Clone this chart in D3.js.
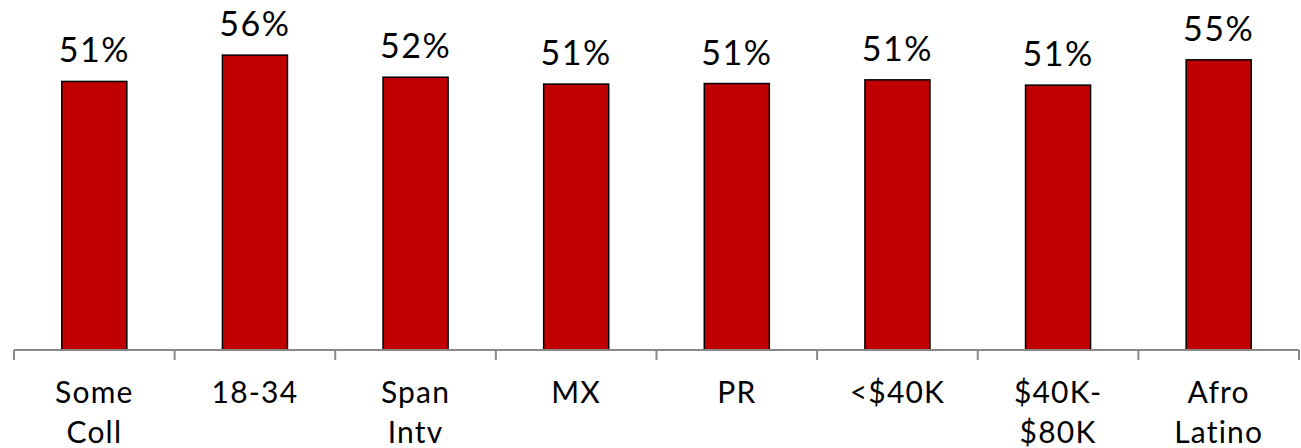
<!DOCTYPE html>
<html>
<head>
<meta charset="utf-8">
<script src="https://cdn.jsdelivr.net/npm/d3@7"></script>
<style>
  body { margin: 0; background: #fff; }
  text { font-family: "Century Gothic", "Lato", sans-serif; fill: #000; }
</style>
</head>
<body>
<svg id="chart" width="1301" height="448"></svg>
<script>
var categories = [["Some", "Coll"], ["18-34"], ["Span", "Intv"], ["MX"], ["PR"], ["<$40K"], ["$40K-", "$80K"], ["Afro", "Latino"]];
var values = [0.510, 0.560, 0.518, 0.505, 0.506, 0.513, 0.503, 0.551];
var valueLabels = ["51%", "56%", "52%", "51%", "51%", "51%", "51%", "55%"];

var svg = d3.select("svg#chart"),
  width = +svg.attr("width"),
  height = +svg.attr("height");

var x = d3.scaleBand()
  .domain(d3.range(categories.length))
  .range([14, 1299])
  .paddingInner(0.595)
  .paddingOuter(0.2975);

var y = d3.scaleLinear()
  .domain([0, 0.6])
  .range([350, 350 - 0.6 * 526.6]);

// bars
svg.append("g")
  .selectAll("rect")
  .data(values)
  .enter().append("rect")
  .attr("x", function(d, i) { return x(i); })
  .attr("y", function(d) { return y(d); })
  .attr("width", x.bandwidth())
  .attr("height", function(d) { return y(0) - y(d); })
  .attr("fill", "#c00000")
  .attr("stroke", "#000")
  .attr("stroke-width", 1.5);

// x axis with ticks between categories
var axis = svg.append("g").attr("class", "axis");
axis.append("line")
  .attr("x1", 14).attr("x2", 1299)
  .attr("y1", 350).attr("y2", 350)
  .attr("stroke", "#898989").attr("stroke-width", 2);
axis.selectAll("line.tick")
  .data(d3.range(categories.length + 1))
  .enter().append("line")
  .attr("class", "tick")
  .attr("x1", function(d) { return 14 + d * (1285 / categories.length); })
  .attr("x2", function(d) { return 14 + d * (1285 / categories.length); })
  .attr("y1", 350).attr("y2", 360)
  .attr("stroke", "#898989").attr("stroke-width", 2);

// category labels
var cat = svg.append("g")
  .selectAll("text")
  .data(categories)
  .enter().append("text")
  .attr("text-anchor", "middle")
  .attr("font-size", 30)
  .attr("letter-spacing", 1.2)
  .attr("x", function(d, i) { return x(i) + x.bandwidth() / 2; });
cat.selectAll("tspan")
  .data(function(d, i) { return d.map(function(s) { return { s: s, i: i }; }); })
  .enter().append("tspan")
  .attr("x", function(d) { return x(d.i) + x.bandwidth() / 2; })
  .attr("y", function(d, j) { return 403 + j * 40; })
  .text(function(d) { return d.s; });

// value labels
svg.append("g")
  .selectAll("text")
  .data(values)
  .enter().append("text")
  .attr("text-anchor", "middle")
  .attr("font-size", 34)
  .attr("letter-spacing", 1.5)
  .attr("x", function(d, i) { return x(i) + x.bandwidth() / 2; })
  .attr("y", function(d) { return y(d) - 19; })
  .text(function(d, i) { return valueLabels[i]; });
</script>
</body>
</html>
